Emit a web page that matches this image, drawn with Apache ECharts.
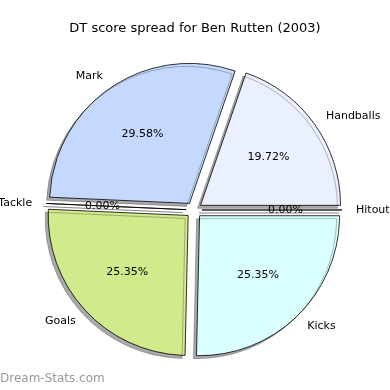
<!DOCTYPE html>
<html><head><meta charset="utf-8">
<script src="https://cdn.jsdelivr.net/npm/echarts@6/dist/echarts.min.js"></script>
<style>html,body{margin:0;padding:0;background:#fff}#c{width:390px;height:390px}</style>
</head><body><div id="c"></div>
<script>
const categories = ['Handballs', 'Mark', 'Tackle', 'Goals', 'Kicks', 'Hitout'];
const values = [14, 21, 0, 18, 18, 0];
const colors = ['#EAF0FF', '#C5D9FF', '#FFE6B0', '#D1EA8B', '#DAFFFF', '#F0D0D0'];
const titleText = 'DT score spread for Ben Rutten (2003)';
const watermark = 'Dream-Stats.com';

const R = 140, CX = 194, CY = 210, OFF = 8;
const total = values.reduce((a, b) => a + b, 0);
const data = categories.map((c, i) => ({
  name: c, value: values[i], selected: true,
  itemStyle: { color: colors[i] }
}));
const font = 'DejaVu Sans';
const chart = echarts.init(document.getElementById('c'));
chart.setOption({
  animation: false,
  backgroundColor: '#fff',
  title: { text: titleText, left: 'center', top: 17,
    textStyle: { fontFamily: font, fontSize: 13, fontWeight: 'normal', color: '#000' } },
  graphic: [{ type: 'text', left: 0, top: 373,
    style: { text: watermark, font: '12px "DejaVu Sans"', fill: '#999' } }],
  series: [
    {
      type: 'pie', center: [CX, CY], radius: [0, R],
      clockwise: false, startAngle: 0, avoidLabelOverlap: false,
      selectedMode: 'multiple', selectedOffset: OFF,
      data: data,
      itemStyle: { borderColor: '#000', borderWidth: 0.8,
        shadowColor: 'rgba(40,40,40,0.4)', shadowOffsetX: -3, shadowOffsetY: 3, shadowBlur: 0 },
      label: { show: true, position: 'outside', formatter: '{b}', fontFamily: font,
        fontSize: 11, color: '#000', distanceToLabelLine: 0 },
      labelLine: { show: false, length: R * 0.1, length2: 0 },
      emphasis: { disabled: true },
      select: { itemStyle: { borderColor: '#000', borderWidth: 0.8 } },
      silent: true, z: 2
    },
    {
      type: 'pie', center: [CX, CY], radius: [R * 0.15, R],
      clockwise: false, startAngle: 0, avoidLabelOverlap: false,
      selectedMode: 'multiple', selectedOffset: OFF,
      data: data.map(d => ({ name: d.name, value: d.value, selected: true })),
      itemStyle: { color: 'rgba(0,0,0,0)', borderWidth: 0 },
      label: { show: true, position: 'inside', rotate: 0,
        formatter: p => (p.value / total * 100).toFixed(2) + '%',
        fontFamily: font, fontSize: 11, color: '#000' },
      labelLine: { show: false },
      emphasis: { disabled: true },
      select: { itemStyle: { color: 'rgba(0,0,0,0)', borderWidth: 0 } },
      silent: true, z: 3
    }
  ]
});
</script></body></html>
